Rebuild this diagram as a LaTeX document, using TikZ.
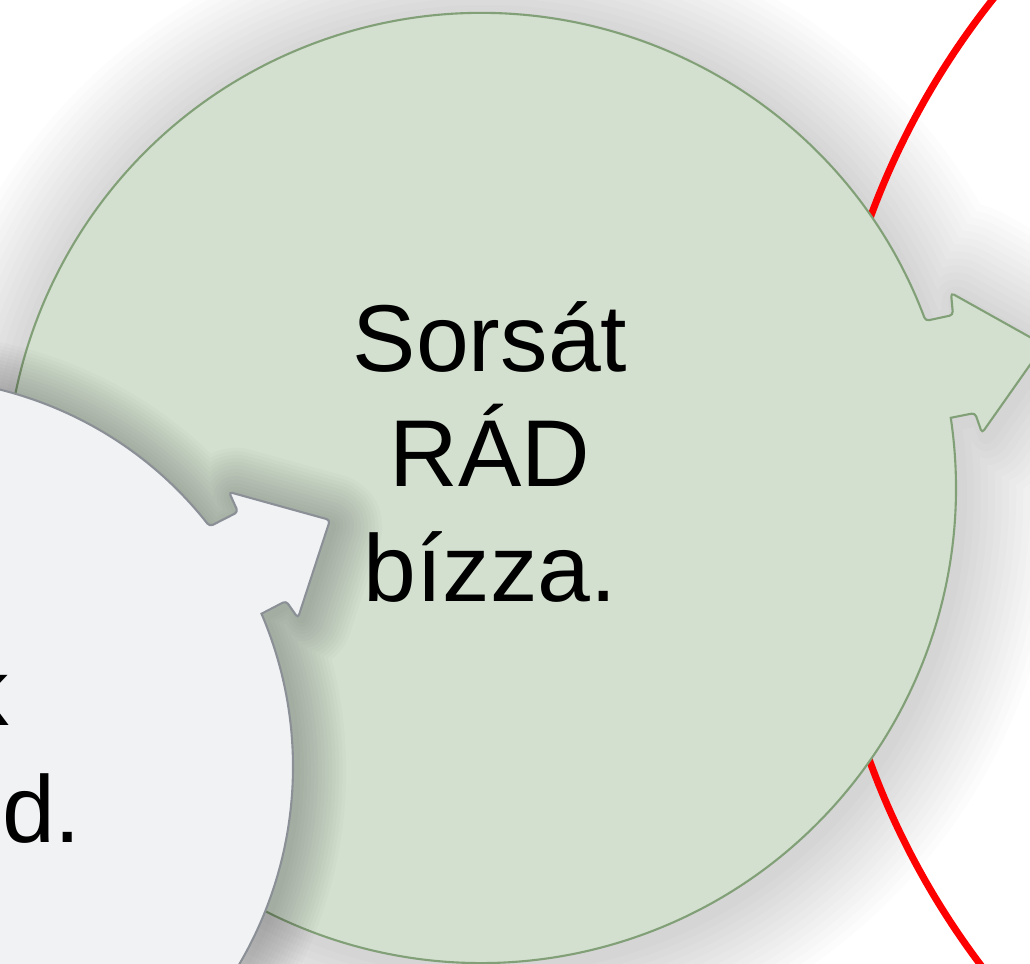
\documentclass[tikz,border=0pt]{standalone}
\usepackage{fontspec}
\setmainfont{Liberation Sans}
\definecolor{sagefill}{HTML}{D3E0CF}
\definecolor{sageline}{HTML}{82A077}
\definecolor{mistfill}{HTML}{F1F2F4}
\definecolor{mistline}{HTML}{8B9097}
\newcommand{\sageshape}{([shift={(481,476)}]20.6:475) arc[start angle=20.6,end angle=368.5,radius=475]
  [rounded corners=1pt] -- (975,551) -- (982,531) -- (1044,619) -- (951,671) -- (953,649) -- cycle}
\newcommand{\mistshape}{([shift={(-96,197)}]38.2:389) arc[start angle=38.2,end angle=383.2,radius=389]
  [rounded corners=1pt] -- (286,363) -- (298,346) -- (330,444) -- (229,472) -- (238,452) -- cycle}
\begin{document}
\begin{tikzpicture}[x=0.01cm,y=0.01cm,
  softshadow/.style={draw=black,draw opacity=0.012,line join=round},
  bigtext/.style={font=\fontsize{27pt}{32.7pt}\selectfont,inner sep=0pt}]
\useasboundingbox (0,0) rectangle (1030,964);
\clip (0,0) rectangle (1030,964);
\fill[white] (0,0) rectangle (1030,964);
% shadow under the green circle
\begin{scope}[shift={(4,-6)}]
\foreach \k in {1,...,14}
  \draw[softshadow,line width=\k*4pt] \sageshape;
\end{scope}
% red ring
\draw[red,line width=2pt] (1612,474) circle[radius=790];
% green circle with arrow
\filldraw[fill=sagefill,draw=sageline,line width=0.6pt] \sageshape;
% shadow of the grey circle
\begin{scope}[shift={(4,-4)}]
\foreach \k in {1,...,14}
  \draw[softshadow,draw opacity=0.014,line width=\k*2pt] \mistshape;
\end{scope}
% grey circle with arrow
\filldraw[fill=mistfill,draw=mistline,line width=0.6pt] \mistshape;
\node[bigtext,align=center] (sorsat) at (490,512) {Sorsát\\RÁD\\bízza.};
\node[bigtext,anchor=base east] (mistk) at (10,238) {k};
\node[bigtext,anchor=base east] (mistd) at (82,121) {d.};
\end{tikzpicture}
\end{document}
